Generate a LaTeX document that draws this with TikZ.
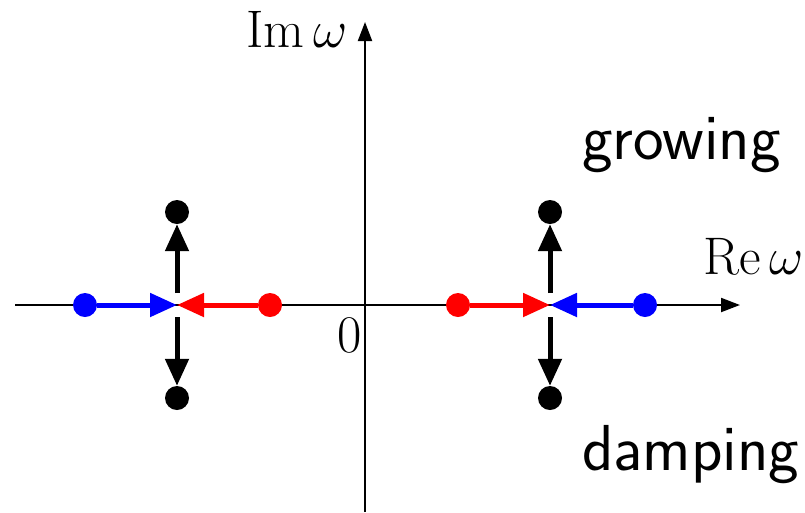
\documentclass[tikz,border=0pt]{standalone}
\usepackage{graphicx}
\usetikzlibrary{arrows.meta}
\newcommand{\biglab}[1]{\scalebox{2.55}{\fontsize{20.74}{25}\selectfont #1}}
\begin{document}
\begin{tikzpicture}[x=1pt,y=-1pt,
  dot/.style={circle,fill=#1,inner sep=0pt,minimum size=24pt},
  axis/.style={line width=2pt,-{Triangle[length=19pt,width=14pt]}},
  mv/.style={line width=5pt,draw=#1,-{Triangle[length=27pt,width=23pt,fill=#1]}},
  word/.style={font=\sffamily\fontsize{65}{78}\selectfont}]
\useasboundingbox (0,0) rectangle (805,512);
\coordinate (xl) at (15,305);
\coordinate (xr) at (740,305);
\coordinate (yb) at (365,512);
\coordinate (yt) at (365,22);
\draw[axis] (xl) -- (xr);
\draw[axis] (yb) -- (yt);
\node[anchor=base east,inner sep=0pt] (im) at (348,47) {\biglab{$\mathrm{Im}\,\omega$}};
\node[anchor=base east,inner sep=0pt] (re) at (804,274) {\biglab{$\mathrm{Re}\,\omega$}};
\node[anchor=base east,inner sep=0pt] (zero) at (362,352) {\biglab{$0$}};
\node[word,anchor=base west,inner sep=0pt] (grow) at (582,159) {growing};
\node[word,anchor=base west,inner sep=0pt] (damp) at (582,470) {damping};
% left cluster
\coordinate (cL) at (177,305);
\node[dot=blue] (bL) at (85,305) {};
\node[dot=red] (rL) at (270,305) {};
\node[dot=black] (tL) at (177,212) {};
\node[dot=black] (dL) at (177,398) {};
\draw[mv=blue] (bL) -- (cL);
\draw[mv=red] (rL) -- (cL);
\draw[mv=black,shorten <=12pt] (cL) -- (tL);
\draw[mv=black,shorten <=12pt] (cL) -- (dL);
% right cluster
\coordinate (cR) at (550,305);
\node[dot=blue] (bR) at (645,305) {};
\node[dot=red] (rR) at (458,305) {};
\node[dot=black] (tR) at (550,212) {};
\node[dot=black] (dR) at (550,398) {};
\draw[mv=blue] (bR) -- (cR);
\draw[mv=red] (rR) -- (cR);
\draw[mv=black,shorten <=12pt] (cR) -- (tR);
\draw[mv=black,shorten <=12pt] (cR) -- (dR);
\end{tikzpicture}
\end{document}
